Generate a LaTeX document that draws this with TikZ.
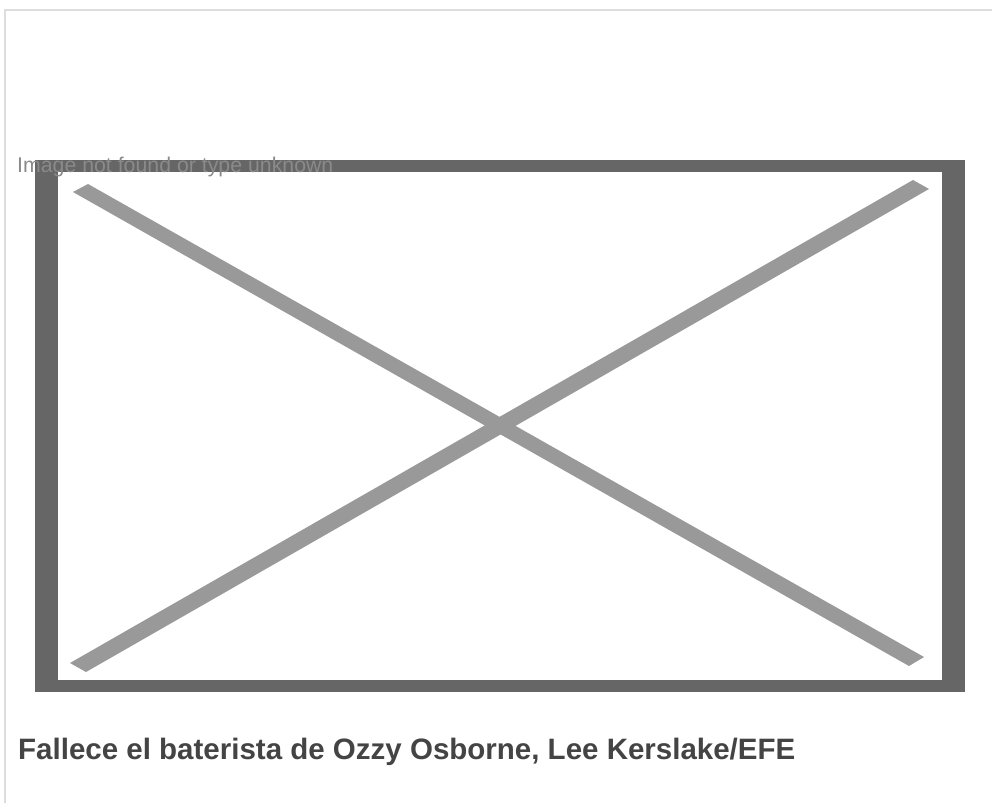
\documentclass[tikz,border=0pt]{standalone}
\usepackage{fontspec}
\setmainfont{Liberation Sans}
\definecolor{pageline}{HTML}{DDDDDD}
\definecolor{framegray}{HTML}{666666}
\definecolor{crossgray}{HTML}{999999}
\definecolor{alttext}{HTML}{8A8A8A}
\definecolor{captiontext}{HTML}{444444}
\tikzset{
  stripe/.style={fill=crossgray, draw=none},
  alt/.style={anchor=base west, inner sep=0pt, text=alttext, font=\fontsize{21.3}{25}\selectfont},
  caption/.style={anchor=base west, inner sep=0pt, text=captiontext, font=\fontsize{29.5}{35}\selectfont\bfseries}
}
\begin{document}
\begin{tikzpicture}[x=1pt,y=-1pt]
\useasboundingbox[fill=white] (0,0) rectangle (992,803);
% page border (top and left)
\draw[pageline, line width=2pt] (5,803) -- (5,10) -- (992,10);
% frame
\fill[framegray] (35,160) rectangle (965,692);
\fill[white] (58,172) rectangle (942,680);
% cross
\fill[stripe] (88,184) -- (924,657) -- (909,666) -- (73,192) -- cycle;
\fill[stripe] (70,663) -- (86,672) -- (929,189) -- (913,180) -- cycle;
% texts
\node[alt] (alt) at (17,172) {Image not found or type unknown};
\node[caption] (cap) at (18,759) {Fallece el baterista de Ozzy Osborne, Lee Kerslake/EFE};
\end{tikzpicture}
\end{document}
